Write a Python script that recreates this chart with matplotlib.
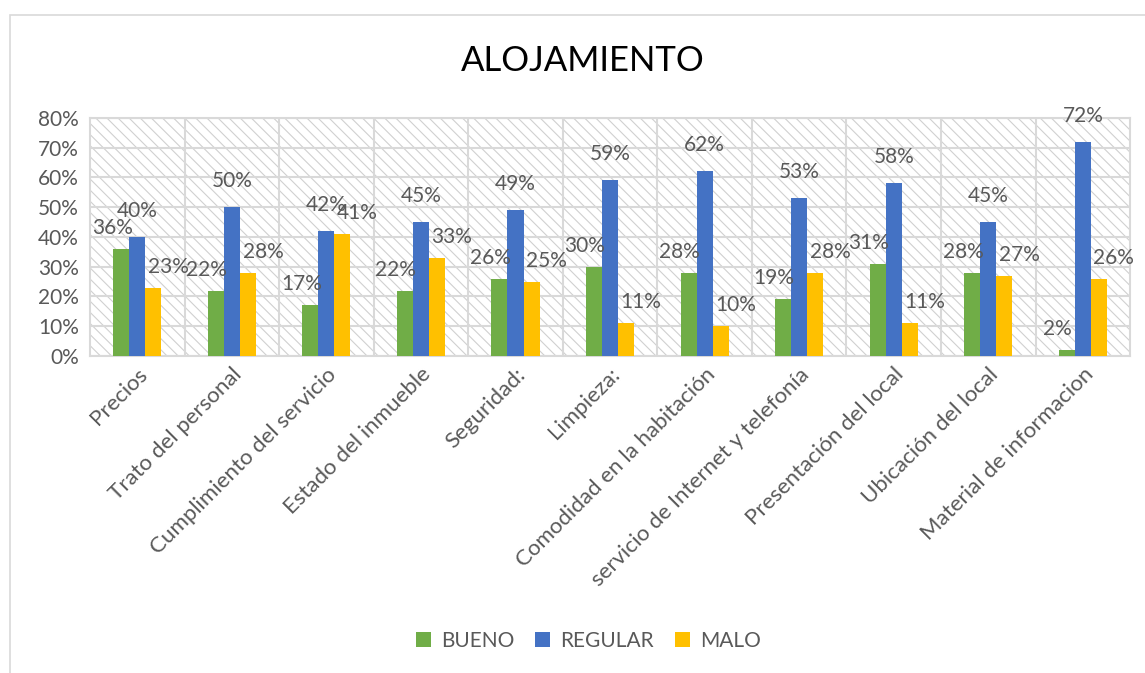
import matplotlib.pyplot as plt
import numpy as np
from matplotlib.patches import Rectangle

plt.rcParams['font.family'] = ['Lato', 'DejaVu Sans']
plt.rcParams['hatch.linewidth'] = 0.8

categories = ["Precios", "Trato del personal", "Cumplimiento del servicio",
              "Estado del inmueble", "Seguridad:", "Limpieza:",
              "Comodidad en la habitación", "servicio de Internet y telefonía",
              "Presentación del local", "Ubicación del local",
              "Material de informacion"]
bueno = [36, 22, 17, 22, 26, 30, 28, 19, 31, 28, 2]
regular = [40, 50, 42, 45, 49, 59, 62, 53, 58, 45, 72]
malo = [23, 28, 41, 33, 25, 11, 10, 28, 11, 27, 26]

series = [("BUENO", bueno, "#70AD47"),
          ("REGULAR", regular, "#4472C4"),
          ("MALO", malo, "#FFC000")]
# label shift (pixels) per series, like the hand-placed Excel labels
label_dx = [-9, 0, 15]
label_dy = [21, 26, 21]

txt = "#595959"
fig = plt.figure(figsize=(11.45, 6.73), dpi=100)
# outer chart frame
fig.patches.append(Rectangle((10 / 1145, -0.1), 1.2, (673 - 15) / 673 + 0.1,
                             transform=fig.transFigure, facecolor='none',
                             edgecolor='#d9d9d9', linewidth=1.2))
ax = fig.add_axes([0.0786, 0.471, 0.9084, 0.354])

# hatched background
ax.add_patch(Rectangle((0, 0), 1, 1, transform=ax.transAxes, facecolor='white',
                       edgecolor='#d0d0d0', hatch='\\\\\\', linewidth=0, zorder=0))

x = np.arange(len(categories))
w = 0.17
for i, (name, vals, col) in enumerate(series):
    pos = x + (i - 1) * w
    ax.bar(pos, vals, width=w, color=col, label=name, zorder=3)
    for p, v in zip(pos, vals):
        ax.annotate(f"{v}%", (p, v), xytext=(label_dx[i], label_dy[i]),
                    textcoords='offset pixels', ha='center', va='center',
                    fontsize=15, color=txt, zorder=4)

ax.set_ylim(0, 80)
ax.set_xlim(-0.5, len(categories) - 0.5)
ax.set_yticks(range(0, 81, 10))
ax.set_yticklabels([f"{t}%" for t in range(0, 81, 10)])
ax.yaxis.grid(True, color='#d9d9d9', linewidth=1.5, zorder=1)
for b in np.arange(0.5, len(categories) - 0.5):
    ax.axvline(b, color='#d9d9d9', linewidth=1.5, zorder=1)
ax.set_axisbelow(True)
for s in ax.spines.values():
    s.set_color('#d9d9d9')
    s.set_linewidth(1.5)

ax.set_xticks(x)
ax.set_xticklabels(categories, rotation=45, ha='right', rotation_mode='anchor',
                   fontsize=16)
ax.tick_params(axis='both', length=0, labelcolor=txt)
ax.tick_params(axis='y', labelsize=15, pad=8)
ax.tick_params(axis='x', pad=6)

fig.text(0.509, 0.909, "ALOJAMIENTO", ha='center', va='center', fontsize=25, color='black')
fig.legend(loc='center', bbox_to_anchor=(0.514, 0.048), ncol=3, frameon=False,
           fontsize=15, labelcolor=txt, handlelength=0.7, handleheight=0.7,
           columnspacing=1.0, handletextpad=0.5)

fig.savefig("out.png", dpi=100)
